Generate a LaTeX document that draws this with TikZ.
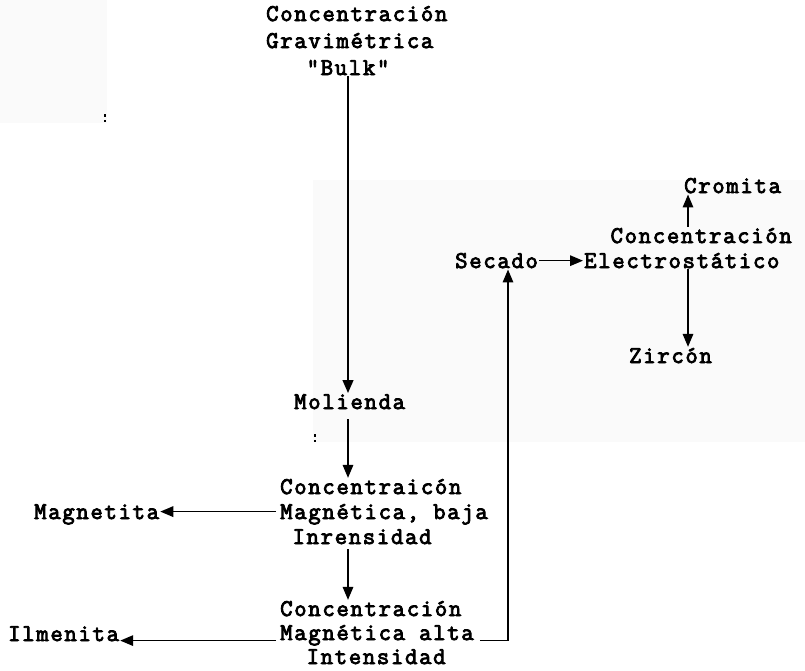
\documentclass[tikz,border=0pt]{standalone}
\usepackage{fontspec}
\newfontfamily\tw{Latin Modern Mono}[FakeBold=3.5, LetterSpace=7.1]
\usetikzlibrary{arrows.meta}
\definecolor{scanbg}{gray}{0.982}

\tikzset{
  lbl/.style={font=\tw\fontsize{24pt}{#1}\selectfont, inner sep=1pt, align=left, anchor=base west},
  lbl/.default=25pt,
  flow/.style={line width=1.6pt, -{Triangle[length=13pt,width=10.5pt]}},
  spine/.style={flow, line width=2.4pt},
  speck/.style={fill=black},
}

\begin{document}
\begin{tikzpicture}[x=1pt,y=-1pt]
  \useasboundingbox (0,0) rectangle (805,670);

  % faint paper tones
  \fill[scanbg] (0,0) rectangle (107,123);
  \fill[scanbg] (313,180) rectangle (805,442);
  \fill[speck] (103.5,114) rectangle (106,116.5);
  \fill[speck] (103.5,119.5) rectangle (106,122);
  \fill[speck] (313.5,434) rectangle (316,436.5);
  \fill[speck] (313.5,439.5) rectangle (316,442);

  % reference verticals
  \coordinate (xs) at (348,0);
  \coordinate (xr) at (508,0);
  \coordinate (xz) at (688,0);

  % process steps (anchored on the baseline of the last line)
  \node[lbl=27pt] (grav) at (265,75) {Concentración\\Gravimétrica\\\phantom{xxx}"Bulk"};
  \node[lbl] (mol) at (293,409) {Molienda};
  \node[lbl=25pt] (cmb) at (279,544) {Concentraicón\\Magnética, baja\\\phantom{x}Inrensidad};
  \node[lbl=24pt] (cma) at (279,664) {Concentración\\Magnética alta\\\phantom{xx}Intensidad};
  \node[lbl] (sec) at (454,268) {Secado};
  \node[lbl=25pt] (elec) at (583,268) {\phantom{xx}Concentración\\Electrostático};

  % products
  \node[lbl] (mag) at (33,519) {Magnetita};
  \node[lbl] (ilm) at (7,641) {Ilmenita};
  \node[lbl] (crom) at (683,193) {Cromita};
  \node[lbl] (zir) at (628,363) {Zircón};

  % flow
  \draw[spine] (grav.south -| xs) -- (mol.north -| xs);
  \draw[flow, shorten <=9pt] (mol.south -| xs) -- (cmb.north -| xs);
  \draw[flow, shorten <=4pt] (cmb.south -| xs) -- (cma.north -| xs);
  \draw[flow] ([xshift=-3pt]cmb.west) -- (cmb.west -| mag.east);
  \draw[flow] ([shift={(-3pt,-8pt)}]cma.west) -- ([yshift=-8pt]cma.west -| ilm.east);
  \draw[flow] ([shift={(5pt,-8pt)}]cma.east) -| (sec.south -| xr);
  \draw[flow] (sec.east) -- (sec.east -| elec.west);
  \draw[flow] (elec.north -| xz) -- (crom.south -| xz);
  \draw[flow] (elec.south -| xz) -- (zir.north -| xz);
\end{tikzpicture}
\end{document}
